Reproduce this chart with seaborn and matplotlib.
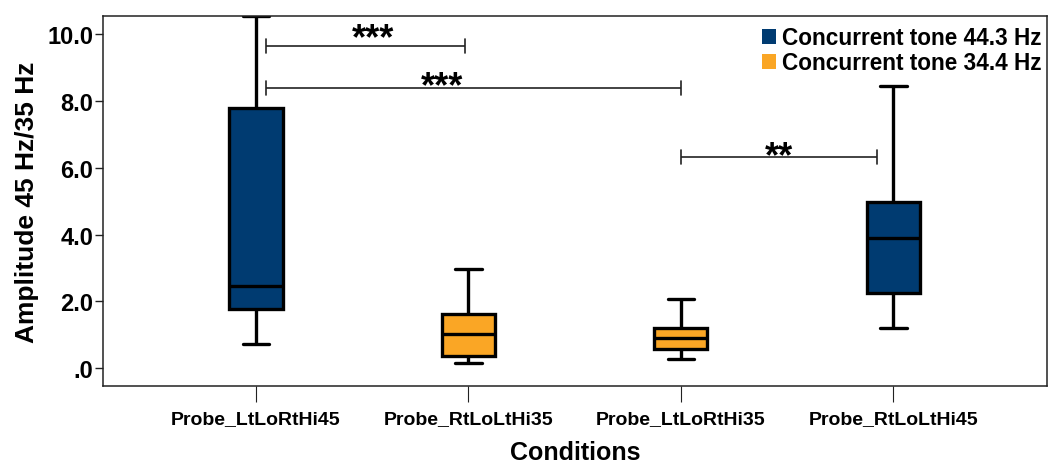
import numpy as np
import pandas as pd
import matplotlib
matplotlib.use("Agg")
import matplotlib.pyplot as plt
import seaborn as sns
from matplotlib.patches import Patch

# ---- data -------------------------------------------------------------
conditions = ["Probe_LtLoRtHi45", "Probe_RtLoLtHi35", "Probe_LtLoRtHi35", "Probe_RtLoLtHi45"]
tone_of_condition = ["Concurrent tone 44.3 Hz", "Concurrent tone 34.4 Hz",
                     "Concurrent tone 34.4 Hz", "Concurrent tone 44.3 Hz"]
tone_levels = ["Concurrent tone 44.3 Hz", "Concurrent tone 34.4 Hz"]
# five-number summaries per condition: min, Q1, median, Q3, max
amp_ltlorthi45 = [0.72, 1.77, 2.47, 7.77, 10.53]
amp_rtlolthi35 = [0.15, 0.38, 1.02, 1.61, 2.97]
amp_ltlorthi35 = [0.28, 0.57, 0.91, 1.20, 2.08]
amp_rtlolthi45 = [1.21, 2.25, 3.90, 4.96, 8.44]
yticks = [0, 2, 4, 6, 8, 10]
ytick_labels = [".0", "2.0", "4.0", "6.0", "8.0", "10.0"]
# significance brackets: x start, x end, line y, label x, label y, label
bracket_x0 = [0.047, 0.047, 2.0]
bracket_x1 = [0.983, 2.0, 2.924]
bracket_y = [9.64, 8.38, 6.31]
label_x = [0.55, 0.875, 2.46]
label_y = [10.08, 8.65, 6.56]
bracket_labels = ["***", "***", "**"]

series = [amp_ltlorthi45, amp_rtlolthi35, amp_ltlorthi35, amp_rtlolthi45]
rows = []
for cond, tone, vals in zip(conditions, tone_of_condition, series):
    for v in vals:
        rows.append({"Conditions": cond, "Tone": tone, "Amplitude": v})
df = pd.DataFrame(rows)

# ---- style ------------------------------------------------------------
sns.set_theme(style="white")
plt.rcParams["font.family"] = ["Liberation Sans", "DejaVu Sans"]
plt.rcParams["font.weight"] = "bold"
plt.rcParams["text.color"] = "black"
plt.rcParams["axes.labelcolor"] = "black"
plt.rcParams["xtick.color"] = "black"
plt.rcParams["ytick.color"] = "black"

palette = {"Concurrent tone 44.3 Hz": "#003b71", "Concurrent tone 34.4 Hz": "#faa625"}

fig = plt.figure(figsize=(10.51, 4.64), dpi=100)
ax = fig.add_axes([0.098, 0.166, 0.898, 0.797])

sns.boxplot(data=df, x="Conditions", y="Amplitude", hue="Tone", order=conditions,
            hue_order=tone_levels, palette=palette, dodge=False, width=0.25,
            saturation=1, whis=np.inf, linewidth=2.4, linecolor="black",
            legend=False, ax=ax)

ax.set_xlim(-0.72, 3.722)
ax.set_ylim(-0.53, 10.53)
ax.set_yticks(yticks)
ax.set_yticklabels(ytick_labels)

for s in ax.spines.values():
    s.set_visible(True)
    s.set_color("#222222")
    s.set_linewidth(1.1)

ax.tick_params(axis="y", direction="out", length=6, width=1, color="#222222",
               labelsize=17, pad=1, left=True, labelcolor="black")
ax.tick_params(axis="x", direction="out", length=11.5, width=0.8, color="#222222",
               labelsize=14, pad=6, bottom=True, labelcolor="black")
for lab in ax.get_xticklabels() + ax.get_yticklabels():
    lab.set_fontweight("bold")

ax.set_xlabel("Conditions", fontsize=18, fontweight="bold", labelpad=9, color="black")
ax.set_ylabel("Amplitude 45 Hz/35 Hz", fontsize=19, fontweight="bold", labelpad=6,
              color="black")

# significance brackets
cap = 0.21
for x0, x1, y, lx, ly, lab in zip(bracket_x0, bracket_x1, bracket_y,
                                   label_x, label_y, bracket_labels):
    ax.plot([x0, x1], [y, y], color="#222222", lw=1.2, solid_capstyle="butt")
    ax.plot([x0, x0], [y - cap, y + cap], color="#222222", lw=1.2)
    ax.plot([x1, x1], [y - cap, y + cap], color="#222222", lw=1.2)
    ax.annotate(lab, xy=(lx, ly), xytext=(0, -12.3), textcoords="offset points",
                ha="center", va="baseline", fontsize=26, fontweight="bold",
                color="black")

handles = [Patch(facecolor=palette[t], edgecolor="none") for t in tone_levels]
leg = ax.legend(handles, tone_levels, loc="upper right", bbox_to_anchor=(0.995, 0.973),
                frameon=False, fontsize=16.3, handlelength=0.62, handleheight=0.62,
                handletextpad=0.3, labelspacing=0.1, borderpad=0, borderaxespad=0)
for t in leg.get_texts():
    t.set_fontweight("bold")
    t.set_color("black")

fig.savefig("out.png", dpi=100)
